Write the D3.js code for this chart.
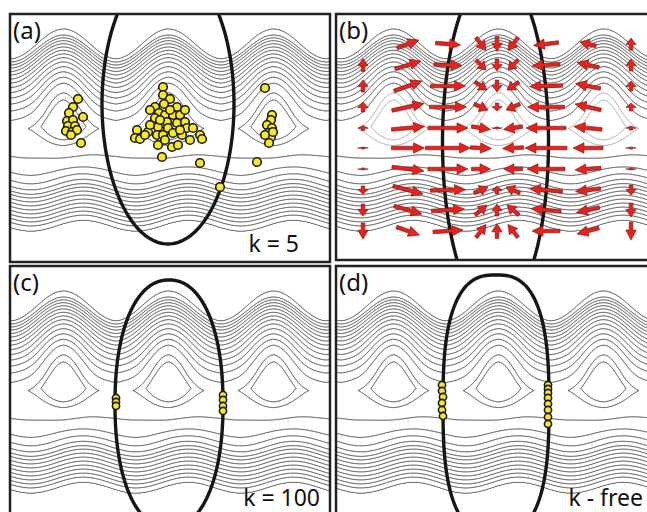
<!DOCTYPE html>
<html><head><meta charset="utf-8">
<script src="https://cdn.jsdelivr.net/npm/d3@7"></script>
<style>body{margin:0;background:#fff}svg{display:block}</style>
</head><body>
<script>
// ---------------- data ----------------
const panelNames = ["(a)", "(b)", "(c)", "(d)"];
const kLabels = ["k = 5", "", "k = 100", "k - free"];
// heights (px) of the potential contour lines where they cross the saddle column, level 1 .. 14
const upperLevelY = [120, 110.5, 103.5, 97.5, 92, 87, 82.5, 78.5, 74.5, 71, 67.5, 64.5, 61.5, 58.5];
const lowerLevelY = [156, 172, 180, 186, 190.5, 194, 198, 202, 206, 210, 214, 218, 222, 227];
const saddleY = 129;
const wellLevels = [-1.0, -0.3];
const lineLevels = d3.range(1, 15);
// restraint curves (one per panel)
const ellCX = [168, 495.5, 169, 496];
const ellCY = [104, 142, 404, 405];
const ellRX = [66, 53, 54, 53];
const ellRY = [140, 171, 124, 130];
const ellN  = [2, 2, 2.2, 2.7];
// sampled configurations
const dotsA = [[78,99],[73,107],[69,113],[83,117],[67,121],[73,120],[68,126],[75,126],[66,131],[72,132],[77,130],[71,135],[81,143],
 [163,87],[163,95],[170,99],[155,107],[164,104],[177,107],[159,113],[165,115],[173,115],[180,115],[155,118],[167,122],[177,123],[185,122],
 [158,127],[168,128],[187,128],[193,128],[148,132],[137,130],[135,138],[140,139],[157,135],[163,135],[173,133],[182,135],[200,135],[202,139],
 [158,145],[172,147],[178,145],[162,157],[150,110],[170,110],[160,120],[185,110],[150,125],[180,130],[165,140],[190,140],[145,135],
 [200,163],[220,187],[257,162],[265,88],
 [272,115],[271,120],[267,125],[272,128],[268,133],[271,137],[269,143],[265,135],[273,132]];
const dotsC = [[116,398],[116,402],[116,406],[223,395],[223,400],[223,406],[223,411]];
const dotsD = [[442,385],[442,391],[443,397],[442,403],[442,410],[443,416],
 [548,385],[548,389],[548,393],[548,398],[548,404],[548,410],[548,417],[548,424]];
// force arrows of panel (b): grid centres and components (px)
const arrowCols = [363, 408, 448, 481, 497, 513, 546, 588, 631];
const arrowRows = [44, 65, 86, 107, 128, 148, 169, 190, 210, 231];
const arrowU = [
 [0, 22, 25, 10, 0, -10, -25, -16, 0],
 [0, 26, 28, 10, 0, -10, -28, -22, 0],
 [0, 28, 35, 12, 0, -12, -33, -25, 0],
 [0, 32, 37, 14, 0, -14, -37, -26, 0],
 [0, 33, 40, 19, 0, -19, -40, -28, 0],
 [0, 33, 45, 21, 0, -21, -42, -30, 0],
 [0, 32, 40, 19, 0, -19, -38, -26, 0],
 [0, 30, 35, 14, 0, -14, -33, -25, 0],
 [0, 28, 33, 12, 0, -12, -30, -23, 0],
 [0, 23, 30, 10, 0, -10, -28, -22, 0]];
const arrowV = [
 [0, -8, 2, 13, 15, 13, 3, -4, -12],
 [-13, -8, 1, 10, 12, 10, 2, -5, -12],
 [-12, -10, 0, 8, 12, 8, 1, -5, -10],
 [-10, -7, 0, 6, 8, 6, 0, -6, -8],
 [-5, -3, 0, 3, 2, 3, 0, -3, -4],
 [-2, 0, 0, 1, 1, 1, 0, 0, -2],
 [2, 4, 0, 0, -1, 0, 0, 2, 2],
 [8, 8, -1, -6, -8, -6, -3, 3, 10],
 [12, 8, -2, -10, -12, -10, -3, 5, 14],
 [16, 8, -2, -13, -15, -13, 0, 6, 18]];

// ---------------- layout ----------------
const W = 647, H = 512;
const panels = [
  {x: 10, y: 14, w: 320, h: 248, ox: 0, oy: 0},
  {x: 336, y: 14, w: 316, h: 246, ox: 330, oy: 0},
  {x: 10, y: 266, w: 320, h: 252, ox: 0, oy: 262},
  {x: 336, y: 266, w: 316, h: 252, ox: 330, oy: 262}];

const svg = d3.select("body").append("svg").attr("width", W).attr("height", H)
  .style("font-family", "'Noto Sans', 'Open Sans', sans-serif");
const defs = svg.append("defs");
panels.forEach((p, i) => defs.append("clipPath").attr("id", "clip" + i)
  .append("rect").attr("x", p.x).attr("y", p.y).attr("width", p.w).attr("height", p.h));

// ---------------- potential surface ----------------
const gx0 = -12, gx1 = 345, gy0 = -8, gy1 = 275;
const nx = gx1 - gx0 + 1, ny = gy1 - gy0 + 1;
const period = 105, wellX = 63, wellY = 118, sigUp = 40, sigDn = 19;
const depthNarrow = 2.0, depthBroad = 0.9;
const sstep = (a, b, v) => { const t = Math.max(0, Math.min(1, (v - a) / (b - a))); return t * t * (3 - 2 * t); };
const ampCos = y => 13 - 11 * sstep(78, 135, y);
const ampSin = y => 5 * sstep(135, 185, y);
const toTau = y => y - ampCos(y);           // coordinate along the saddle column
const G = d3.scaleLinear()
  .domain([toTau(50), ...upperLevelY.slice().reverse().map(toTau), toTau(saddleY), ...lowerLevelY.map(toTau), toTau(240)])
  .range([14.5, ...d3.range(14, 0, -1), 0, ...d3.range(1, 15), 14.5]).clamp(true);
const values = new Float64Array(nx * ny);
for (let j = 0; j < ny; j++) {
  const y = gy0 + j;
  const A = ampCos(y), B = ampSin(y);
  const dy = y - wellY, sg = dy < 0 ? sigUp : sigDn;
  const gy = Math.exp(-dy * dy / (2 * sg * sg));
  for (let i = 0; i < nx; i++) {
    const x = gx0 + i;
    const th = 2 * Math.PI * (x - wellX) / period;
    const c = Math.cos(th), s = Math.sin(th);
    const tau = y + A * c + B * s;
    const f = (1 + c) / 2;
    const wrapped = Math.abs(Math.atan2(s, c)) / Math.PI;   // 0 at well, 1 at saddle
    const w = (depthNarrow * Math.pow(f, 2.5) + depthBroad * (1 - wrapped)) * gy;
    values[j * nx + i] = G(tau) - w;
  }
}
const contourSet = d3.contours().size([nx, ny]).thresholds([...wellLevels, ...lineLevels])(values);
const gridPath = d3.geoPath(d3.geoIdentity().translate([gx0, gy0]));

// ---------------- draw panels ----------------
const arrowPath = (L) => {
  const hl = Math.min(11, L * 0.55), hw = 5.2, sw = 1.8;
  const b = L - hl;
  return `M0,${-sw}L${b},${-sw}L${b},${-hw}L${L},0L${b},${hw}L${b},${sw}L0,${sw}Z`;
};

panels.forEach((p, i) => {
  const g = svg.append("g").attr("clip-path", `url(#clip${i})`);
  g.append("g").attr("transform", `translate(${p.ox},${p.oy})`)
    .selectAll("path").data(contourSet).join("path")
    .attr("d", gridPath).attr("fill", "none")
    .attr("stroke", d => (i === 1 && d.value < 0) ? "#999" : "#2a2a2a")
    .attr("stroke-width", 0.85);

  const n = ellN[i];
  const pts = d3.range(0, 360, 2).map(a => {
    const t = a * Math.PI / 180, ct = Math.cos(t), st = Math.sin(t);
    return [ellCX[i] + ellRX[i] * Math.sign(ct) * Math.pow(Math.abs(ct), 2 / n),
            ellCY[i] + ellRY[i] * Math.sign(st) * Math.pow(Math.abs(st), 2 / n)];
  });
  g.append("path").attr("d", d3.line().curve(d3.curveLinearClosed)(pts))
    .attr("fill", "none").attr("stroke", "#161616").attr("stroke-width", 3.4);

  if (i === 1) {
    arrowRows.forEach((ry, r) => arrowCols.forEach((cx, c) => {
      const u = arrowU[r][c], v = arrowV[r][c];
      const L = Math.hypot(u, v);
      if (L < 2) return;
      const ang = Math.atan2(v, u) * 180 / Math.PI;
      g.append("path").attr("d", arrowPath(L))
        .attr("transform", `translate(${cx - u / 2},${ry - v / 2}) rotate(${ang})`)
        .attr("fill", "#e4231d").attr("stroke", "#7a1010").attr("stroke-width", 0.6);
    }));
  }
  const dots = i === 0 ? dotsA : i === 2 ? dotsC : i === 3 ? dotsD : [];
  g.selectAll("circle.dot").data(dots).join("circle").attr("class", "dot")
    .attr("cx", d => d[0]).attr("cy", d => d[1]).attr("r", i === 0 ? 4.3 : 3.6)
    .attr("fill", "#f6e827").attr("stroke", "#1a1a1a").attr("stroke-width", 1.6);

  svg.append("text").attr("x", p.x + 3).attr("y", p.y + 25).attr("font-size", 24)
    .attr("fill", "#111").text(panelNames[i]);
  if (kLabels[i]) svg.append("text").attr("x", i === 0 ? 299 : i === 2 ? 320 : 643)
    .attr("y", i === 0 ? 252 : 506).attr("text-anchor", "end").attr("font-size", 23)
    .attr("fill", "#111").text(kLabels[i]);

  svg.append("rect").attr("x", p.x).attr("y", p.y).attr("width", p.w).attr("height", p.h)
    .attr("fill", "none").attr("stroke", "#222").attr("stroke-width", 2.5);
});
</script>
</body></html>
